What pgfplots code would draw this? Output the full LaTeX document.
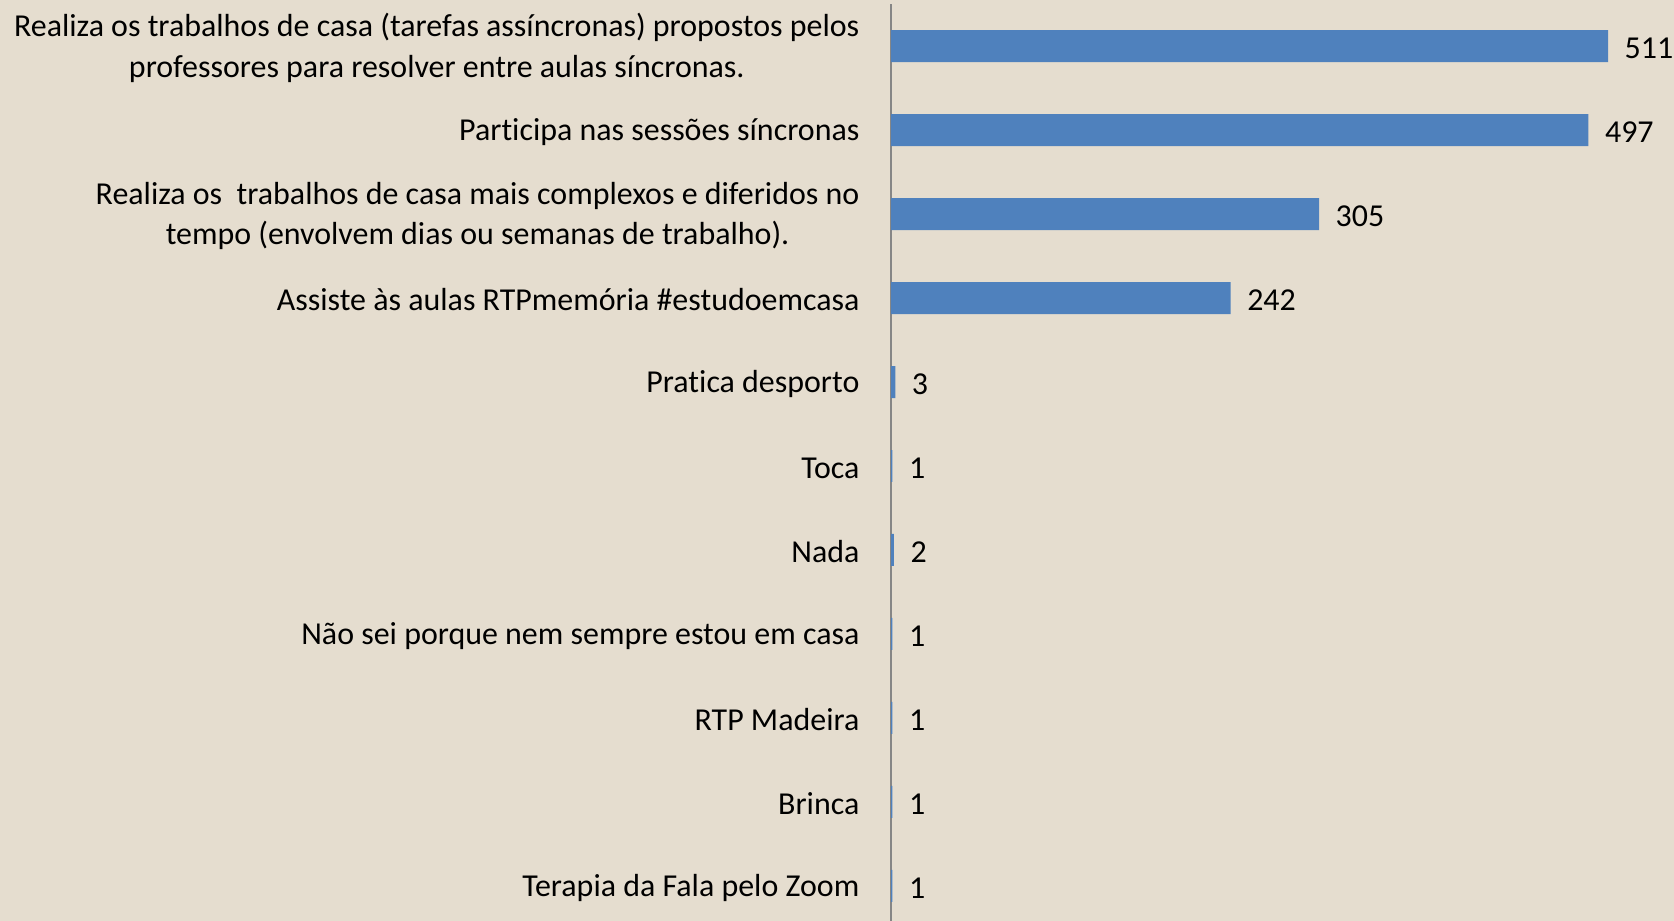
\documentclass[border=0pt]{standalone}
\usepackage{fontspec}
\setmainfont{Carlito}[Ligatures=NoCommon]
\usepackage{pgfplots}
\pgfplotsset{compat=1.18}

\definecolor{bgbeige}{RGB}{229,221,207}
\definecolor{barblue}{RGB}{79,129,189}
\definecolor{axisgray}{RGB}{134,134,134}

\begin{document}
\begin{tikzpicture}
% page = 1674 x 921 px, 1 px = 0.010454 cm
\fill[bgbeige] (0,0) rectangle (17.5cm,9.628cm);
\useasboundingbox (0,0) rectangle (17.5cm,9.628cm);
\begin{axis}[
  at={(9.315cm,0cm)}, anchor=south west,
  scale only axis,
  width=8.185cm, height=9.586cm,
  xbar, bar width=0.3345cm,
  xmin=0, xmax=558,
  ymin=-0.5, ymax=10.417, y dir=reverse,
  axis x line=none, axis y line*=left,
  y axis line style={draw=axisgray, line width=0.7pt, -},
  xtick=\empty,
  ytick={0,...,10},
  yticklabels={
    {Realiza os trabalhos de casa (tarefas assíncronas) propostos pelos\\professores para resolver entre aulas síncronas.},
    {Participa nas sessões síncronas},
    {Realiza os\ \ trabalhos de casa mais complexos e diferidos no\\tempo (envolvem dias ou semanas de trabalho).},
    {Assiste às aulas RTPmemória \#estudoemcasa},
    {Pratica desporto},
    {Toca},
    {Nada},
    {Não sei porque nem sempre estou em casa},
    {RTP Madeira},
    {Brinca},
    {Terapia da Fala pelo Zoom}},
  major tick length=0pt,
  yticklabel style={font=\fontsize{9.5}{12.1}\selectfont, align=center, inner sep=0pt, xshift=-0.324cm, yshift=-0.02cm},
  /pgf/number format/assume math mode=true,
  nodes near coords,
  every node near coord/.append style={font=\fontsize{9.5}{12.1}\selectfont, anchor=west, inner sep=0pt, xshift=0.167cm, yshift=-0.02cm, black},
  clip=false,
]
\addplot[fill=barblue, draw=none] coordinates {
  (511,0) (497,1) (305,2) (242,3) (3,4) (1,5) (2,6) (1,7) (1,8) (1,9) (1,10)
};
\end{axis}
\end{tikzpicture}
\end{document}
